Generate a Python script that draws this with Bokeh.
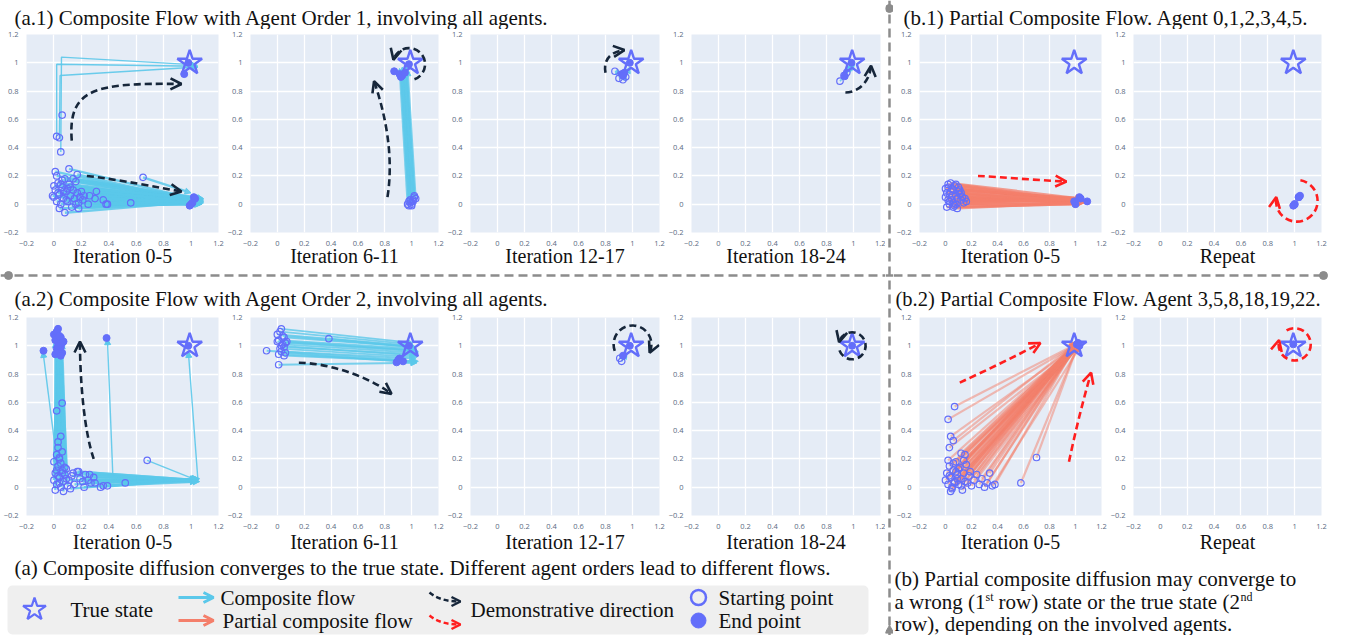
import math
from bokeh.plotting import figure
from bokeh.layouts import row, column
from bokeh.models import (Range1d, FixedTicker, CustomJSTickFormatter, Arrow, NormalHead,
                          OpenHead, ColumnDataSource, BoxAnnotation)
from bokeh.core.properties import value
from bokeh.embed import file_html
from bokeh.resources import INLINE

# ---------------------------------------------------------------- data
TICKS = [-0.2, 0.0, 0.2, 0.4, 0.6, 0.8, 1.0, 1.2]
TRUE_X = [0.99]
TRUE_Y = [1.0]

TITLE_A1 = "(a.1) Composite Flow with Agent Order 1, involving all agents."
TITLE_A2 = "(a.2) Composite Flow with Agent Order 2, involving all agents."
TITLE_B1 = "(b.1) Partial Composite Flow. Agent 0,1,2,3,4,5."
TITLE_B2 = "(b.2) Partial Composite Flow. Agent 3,5,8,18,19,22."
LABELS_A = ["Iteration 0-5", "Iteration 6-11", "Iteration 12-17", "Iteration 18-24"]
LABELS_B = ["Iteration 0-5", "Repeat"]
CAPTION_A = "(a) Composite diffusion converges to the true state. Different agent orders lead to different flows."
CAPTION_B = ["(b) Partial composite diffusion may converge to",
             "a wrong (1", "st", "row) state or the true state (2", "nd",
             "row), depending on the involved agents."]
LEGEND_TEXT = ["True state", "Composite flow", "Partial composite flow",
               "Demonstrative direction", "Starting point", "End point"]

# (a.1) iteration 0-5
A1_0_SX = [0.00, 0.01, 0.02, 0.03, 0.04, 0.05, 0.06, 0.07, 0.08, 0.09,
           0.10, 0.11, 0.12, 0.13, 0.14, 0.15, 0.16, 0.17, 0.18, 0.19,
           0.20, 0.02, 0.04, 0.06, 0.08, 0.01, 0.11, 0.17, 0.14, 0.10,
           0.03, 0.05, 0.07, 0.09, 0.12, 0.16, 0.18, 0.21, 0.22, 0.25,
           0.26, 0.30, 0.31, 0.36, 0.38, 0.39, 0.56, -0.01, 0.00, 0.65]
A1_0_SY = [0.05, 0.10, 0.02, 0.15, 0.07, 0.00, 0.12, 0.04, 0.18, 0.09,
           0.02, 0.14, 0.06, -0.02, 0.10, 0.04, 0.16, 0.08, 0.01, 0.05,
           0.09, 0.20, -0.03, 0.17, -0.06, 0.23, 0.25, 0.21, 0.18, 0.11,
           0.08, 0.14, 0.09, 0.03, 0.12, 0.00, -0.03, 0.03, 0.06, 0.00,
           0.06, 0.04, 0.09, 0.03, 0.00, 0.00, 0.01, 0.06, 0.13, 0.19]
A1_0_FX = [1.06, 1.08, 1.05, 1.07, 1.09, 1.04, 1.06, 1.08, 1.05, 1.07,
           1.09, 1.04, 1.06, 1.08, 1.05, 1.07, 1.09, 1.04, 1.06, 1.08,
           1.05, 1.07, 1.09, 1.04, 1.06, 1.08, 1.05, 1.07, 1.09, 1.04,
           1.06, 1.08, 1.05, 1.07, 1.09, 1.04, 1.06, 1.08, 1.05, 1.07,
           1.09, 1.04, 1.06, 1.08, 1.05, 1.07, 1.09, 1.04, 1.06, 1.00]
A1_0_FY = [0.02, 0.03, 0.01, 0.04, 0.02, 0.00, 0.03, 0.01, 0.04, 0.02,
           0.03, 0.01, 0.00, 0.02, 0.04, 0.03, 0.01, 0.02, 0.04, 0.00,
           0.02, 0.03, 0.01, 0.04, 0.02, 0.00, 0.03, 0.01, 0.04, 0.02,
           0.03, 0.01, 0.00, 0.02, 0.04, 0.03, 0.01, 0.02, 0.04, 0.00,
           0.02, 0.03, 0.01, 0.04, 0.02, 0.00, 0.03, 0.01, 0.04, 0.08]
A1_0_OX = [0.02, 0.04, 0.06, 0.05]
A1_0_OY = [0.48, 0.47, 0.63, 0.37]
A1_0_PX = [[0.02, 0.02, 1.05], [0.05, 0.055, 1.04], [0.04, 0.045, 1.05]]
A1_0_PY = [[0.48, 0.99, 0.975], [0.37, 1.04, 0.985], [0.47, 0.91, 0.97]]
A1_0_EX = [1.02, 1.03, 1.00, 0.99, 1.01, 0.95, 0.98]
A1_0_EY = [0.05, 0.04, 0.00, -0.01, 0.01, 0.92, 1.00]
A1_0_DEMO = [(0.13, 0.45, 0.10, 0.82, 0.30, 0.86, 0.93, 0.85),
             (0.24, 0.20, 0.50, 0.17, 0.75, 0.12, 0.93, 0.09)]

# (a.1) iteration 6-11
A1_1_SX = [0.97, 0.98, 0.99, 1.00, 1.01, 1.02, 1.03, 0.98, 1.00, 1.02, 0.99, 1.01]
A1_1_SY = [0.00, -0.01, 0.01, 0.00, 0.03, 0.05, 0.04, 0.02, -0.01, 0.06, 0.03, 0.02]
A1_1_FX = [0.91, 0.92, 0.93, 0.94, 0.95, 0.96, 0.97, 0.92, 0.94, 0.96, 0.93, 0.95]
A1_1_FY = [0.96, 0.95, 0.97, 0.94, 0.96, 0.97, 0.95, 0.93, 0.95, 0.96, 0.94, 0.97]
A1_1_EX = [0.87, 0.91, 0.93, 0.92, 0.95, 0.98]
A1_1_EY = [0.94, 0.92, 0.91, 0.90, 0.93, 0.99]
A1_1_DEMO = [(0.82, 0.05, 0.87, 0.35, 0.80, 0.65, 0.72, 0.87)]
A1_1_ARC = [(0.98, 0.99, 0.12, -70, 165, "anticlock")]

# (a.1) iteration 12-17
A1_2_SX = [0.87, 0.90, 0.93, 0.95]
A1_2_SY = [0.94, 0.89, 0.88, 0.90]
A1_2_FX = [0.92, 0.94, 0.95, 0.98]
A1_2_FY = [0.92, 0.93, 0.92, 0.97]
A1_2_EX = [0.92, 0.94, 0.93, 0.98]
A1_2_EY = [0.92, 0.93, 0.91, 1.00]
A1_2_DEMO = [(0.80, 0.93, 0.78, 1.03, 0.85, 1.08, 0.94, 1.09)]

# (a.1) iteration 18-24
A1_3_SX = [0.90, 0.93, 0.95]
A1_3_SY = [0.87, 0.91, 0.93]
A1_3_FX = [1.00, 0.99, 1.01]
A1_3_FY = [0.99, 0.98, 1.00]
A1_3_EX = [0.985, 0.935]
A1_3_EY = [1.00, 0.905]
A1_3_DEMO = [(0.94, 0.79, 1.03, 0.79, 1.12, 0.86, 1.13, 0.98)]

# (b.1) iteration 0-5
B1_0_SX = [0.00, 0.01, 0.02, 0.03, 0.04, 0.05, 0.06, 0.07, 0.08, 0.09,
           0.10, 0.11, 0.12, 0.13, 0.14, 0.15, 0.16, 0.01, 0.03, 0.05,
           0.07, 0.09, 0.11, 0.02, 0.04, 0.06, 0.08, 0.10, 0.00, 0.03,
           0.06, 0.12, 0.05, 0.08, 0.02]
B1_0_SY = [0.05, 0.08, 0.12, 0.02, 0.15, 0.06, 0.10, -0.01, 0.14, 0.04,
           0.09, 0.07, 0.03, 0.05, 0.01, 0.04, 0.02, -0.02, 0.00, 0.11,
           0.13, -0.03, 0.10, 0.03, 0.09, 0.01, 0.06, 0.12, 0.11, 0.07,
           -0.02, 0.08, 0.03, 0.00, 0.14]
B1_0_FX = [1.05, 1.06, 1.04, 1.07, 1.05, 1.03, 1.06, 1.04, 1.07, 1.05,
           1.06, 1.04, 1.05, 1.07, 1.03, 1.06, 1.05, 1.04, 1.06, 1.05,
           1.07, 1.04, 1.06, 1.05, 1.03, 1.06, 1.04, 1.07, 1.05, 1.06,
           1.04, 1.05, 1.07, 1.03, 1.06]
B1_0_FY = [0.02, 0.03, 0.01, 0.02, 0.04, 0.00, 0.03, 0.01, 0.02, 0.03,
           0.04, 0.00, 0.02, 0.01, 0.03, 0.02, 0.04, 0.00, 0.01, 0.03,
           0.02, 0.01, 0.04, 0.02, 0.00, 0.03, 0.02, 0.01, 0.04, 0.03,
           0.00, 0.02, 0.03, 0.01, 0.02]
B1_0_EX = [1.00, 1.03, 1.09, 0.99, 1.04]
B1_0_EY = [0.00, 0.05, 0.02, 0.02, 0.04]
B1_0_DEMO = [(0.25, 0.20, 0.45, 0.19, 0.70, 0.17, 0.93, 0.16)]

# (b.1) repeat
B1_1_SX = [1.00, 1.03]
B1_1_SY = [0.00, 0.05]
B1_1_FX = [1.01, 1.06]
B1_1_FY = [0.01, 0.06]
B1_1_EX = [1.00, 1.03, 0.99, 1.04]
B1_1_EY = [0.00, 0.05, -0.01, 0.06]
B1_1_ARC = [(1.016, 0.024, 0.155, 80, 170, "clock")]

# (a.2) iteration 0-5
A2_0_SX = [0.00, 0.01, 0.02, 0.03, 0.04, 0.05, 0.06, 0.07, 0.08, 0.09,
           0.01, 0.03, 0.05, 0.07, 0.09, 0.02, 0.04, 0.06, 0.08, 0.10,
           0.00, 0.02, 0.04, 0.06, 0.03, 0.05, 0.02, 0.03, 0.06, 0.04,
           0.11, 0.13, 0.15, 0.17, 0.19, 0.21, 0.23, 0.25, 0.27, 0.29,
           0.12, 0.14, 0.18, 0.22, 0.26, 0.30, 0.34, 0.36, 0.39, 0.52]
A2_0_SY = [0.05, 0.10, 0.02, 0.15, 0.07, 0.00, 0.12, 0.04, 0.09, 0.13,
           -0.02, 0.08, 0.17, -0.03, 0.06, 0.12, 0.03, 0.10, 0.14, 0.01,
           0.18, 0.23, 0.20, 0.25, 0.32, 0.36, 0.54, 0.28, 0.595, 0.21,
           0.05, 0.08, 0.02, 0.11, 0.06, 0.04, 0.09, 0.05, 0.03, 0.07,
           -0.01, 0.10, 0.11, 0.00, 0.09, 0.03, 0.00, 0.01, 0.01, 0.03]
A2_0_FX = [0.02, 0.03, 0.04, 0.05, 0.06, 0.02, 0.03, 0.04, 0.05, 0.06,
           0.01, 0.02, 0.03, 0.04, 0.05, 0.06, 0.02, 0.03, 0.04, 0.05,
           0.03, 0.04, 0.05, 0.02, 0.03, 0.04, 0.05, 0.06, 0.04, 0.03,
           1.05, 1.04, 1.06, 1.05, 1.04, 1.06, 1.05, 1.04, 1.06, 1.05,
           1.04, 1.06, 1.05, 1.04, 1.06, 1.05, 1.04, 1.06, 1.05, 1.04]
A2_0_FY = [1.04, 1.06, 1.02, 1.05, 1.07, 1.03, 1.04, 1.06, 1.05, 1.02,
           1.03, 1.05, 1.07, 1.04, 1.02, 1.06, 1.05, 1.03, 1.04, 1.06,
           1.02, 1.05, 1.03, 1.04, 1.06, 1.05, 1.03, 1.04, 1.02, 1.05,
           0.05, 0.04, 0.06, 0.05, 0.04, 0.06, 0.05, 0.04, 0.06, 0.05,
           0.06, 0.04, 0.05, 0.06, 0.04, 0.05, 0.06, 0.04, 0.05, 0.06]
A2_0_OX = [0.68]
A2_0_OY = [0.19]
A2_0_PX = [[0.03, -0.08], [0.30, 0.43, 0.39], [0.68, 1.04], [0.60, 1.05, 0.98]]
A2_0_PY = [[0.12, 0.96], [0.07, 0.07, 1.05], [0.19, 0.05], [0.04, 0.05, 0.96]]
A2_0_EX = [0.00, 0.01, 0.02, 0.03, 0.04, 0.05, 0.06, 0.07, 0.01, 0.03,
           0.05, 0.02, 0.04, 0.06, 0.03, 0.05, -0.076, 0.384, 0.98]
A2_0_EY = [1.08, 1.04, 0.98, 1.12, 1.01, 1.06, 0.95, 1.03, 0.94, 0.96,
           0.99, 1.10, 1.07, 1.02, 1.00, 0.93, 0.965, 1.055, 1.00]
A2_0_DEMO = [(0.29, 0.20, 0.22, 0.40, 0.19, 0.75, 0.19, 1.03)]

# (a.2) iteration 6-11
A2_1_SX = [0.00, 0.01, 0.02, 0.03, 0.04, 0.05, 0.06, 0.07, 0.01, 0.03,
           0.05, 0.02, 0.04, 0.06, 0.03, 0.05, -0.08, 0.01, 0.384, 0.00]
A2_1_SY = [1.08, 1.04, 0.98, 1.12, 1.01, 1.06, 0.95, 1.03, 0.94, 0.96,
           0.99, 1.10, 1.07, 1.02, 1.00, 0.93, 0.965, 0.866, 1.05, 1.03]
A2_1_FX = [1.02, 1.03, 1.04, 1.01, 1.05, 1.03, 1.04, 1.02, 1.05, 1.03,
           1.04, 1.01, 1.02, 1.05, 1.03, 1.04, 0.95, 1.04, 1.02, 1.03]
A2_1_FY = [1.00, 0.98, 0.92, 1.02, 0.95, 0.99, 0.88, 0.97, 0.89, 0.91,
           0.94, 1.01, 0.99, 0.96, 0.93, 0.89, 0.90, 0.88, 0.99, 0.97]
A2_1_EX = [0.888, 0.91, 0.936, 0.90, 0.98]
A2_1_EY = [0.883, 0.91, 0.89, 0.90, 1.00]
A2_1_DEMO = [(0.16, 0.88, 0.35, 0.88, 0.65, 0.80, 0.85, 0.66)]

# (a.2) iteration 12-17
A2_2_SX = [0.906, 0.92]
A2_2_SY = [0.912, 0.89]
A2_2_FX = [0.95, 0.96]
A2_2_FY = [0.94, 0.95]
A2_2_EX = [0.93, 0.98]
A2_2_EY = [0.93, 1.00]
A2_2_ARC = [(1.0, 1.01, 0.14, 200, -25, "clock")]

# (a.2) iteration 18-24
A2_3_EX = [0.99]
A2_3_EY = [1.00]
A2_3_ARC = [(0.99, 1.0, 0.10, 200, 165, "anticlock")]

# (b.2) iteration 0-5
B2_0_SX = [0.00, 0.01, 0.02, 0.03, 0.04, 0.05, 0.06, 0.07, 0.08, 0.09,
           0.10, 0.11, 0.12, 0.13, 0.14, 0.15, 0.16, 0.18, 0.20, 0.22,
           0.24, 0.26, 0.28, 0.30, 0.32, 0.34, 0.36, 0.38, 0.02, 0.04,
           0.06, 0.08, 0.10, 0.03, 0.05, 0.07, 0.09, 0.12, 0.14, 0.17,
           0.07, 0.02, 0.04, 0.06, 0.03, 0.12, 0.15, 0.58, 0.70, 0.19]
B2_0_SY = [0.05, 0.10, 0.02, 0.15, 0.07, 0.00, 0.12, 0.04, 0.18, 0.09,
           0.02, 0.14, 0.06, -0.02, 0.10, 0.04, 0.16, 0.08, 0.01, 0.05,
           0.09, 0.02, 0.06, 0.00, 0.03, 0.10, 0.01, 0.02, 0.19, -0.03,
           0.17, 0.11, 0.13, 0.08, -0.01, 0.03, 0.06, 0.01, 0.19, 0.03,
           0.57, 0.48, 0.36, 0.33, 0.28, 0.24, 0.23, 0.03, 0.21, 0.11]
B2_0_FX = [1.02, 1.01, 1.03, 1.02, 1.00, 1.03, 1.01, 1.02, 1.04, 1.02,
           1.01, 1.03, 1.02, 1.00, 1.03, 1.01, 1.02, 1.04, 1.02, 1.01,
           1.03, 1.02, 1.00, 1.03, 1.01, 1.02, 1.04, 1.02, 1.01, 1.03,
           1.02, 1.00, 1.03, 1.01, 1.02, 1.04, 1.02, 1.01, 1.03, 1.02,
           1.00, 1.03, 1.01, 1.02, 1.04, 1.02, 1.01, 1.03, 1.02, 1.00]
B2_0_FY = [1.01, 1.02, 1.00, 1.03, 1.01, 1.02, 1.00, 1.03, 1.01, 1.02,
           1.00, 1.03, 1.01, 1.02, 1.00, 1.03, 1.01, 1.02, 1.00, 1.03,
           1.01, 1.02, 1.00, 1.03, 1.01, 1.02, 1.00, 1.03, 1.01, 1.02,
           1.00, 1.03, 1.01, 1.02, 1.00, 1.03, 1.01, 1.02, 1.00, 1.03,
           1.01, 1.02, 1.00, 1.03, 1.01, 1.02, 1.00, 1.03, 1.01, 1.02]
B2_0_EX = [1.01, 1.02, 1.03]
B2_0_EY = [1.01, 1.02, 1.00]
B2_0_DEMO = [(0.11, 0.74, 0.30, 0.82, 0.55, 0.93, 0.73, 1.02),
             (0.95, 0.18, 1.00, 0.40, 1.06, 0.62, 1.12, 0.81)]

# (b.2) repeat
B2_1_EX = [0.99]
B2_1_EY = [1.01]
B2_1_ARC = [(1.0, 1.01, 0.12, 120, 165, "clock")]

# ---------------------------------------------------------------- style
SERIF = "Liberation Serif"
BG = "#E5ECF6"
CYAN = "#5BC8EA"
SALMON = "#F47F6B"
MARK = "#636EFA"
DARK = "#16263A"
RED = "#FF1E1E"
GRAY = "#8C8C8C"

FMT_CODE = """
const v = Math.round(tick * 10) / 10;
let s = Number.isInteger(v) ? v.toFixed(0) : v.toFixed(1);
if (v < 0) { s = "\\u2212" + s.slice(1); }
return s;
"""


def band(w, h):
    p = figure(width=w, height=h, x_range=Range1d(0, w), y_range=Range1d(h, 0),
               toolbar_location=None, output_backend="svg", min_border=0,
               x_axis_type=None, y_axis_type=None, outline_line_color=None,
               background_fill_color="white", border_fill_color="white")
    return p


def txt(p, x, y, s, size="21px", align="left", color="#111111"):
    p.text(x=[x], y=[y], text=[s], text_font=value(SERIF), text_font_size=value(size),
           text_align=align, text_baseline="middle", text_color=color)


def head(p, x0, y0, x1, y1, color, size=11, lw=2.6):
    p.add_layout(Arrow(x_start=x0, y_start=y0, x_end=x1, y_end=y1, line_alpha=0,
                       end=OpenHead(size=size, line_color=color, line_width=lw)))


def make_panel(left, fw, right, top, fh, bottom, d, label, standoff):
    p = figure(width=left + fw + right, height=top + fh + bottom,
               x_range=Range1d(-0.2, 1.2), y_range=Range1d(-0.2, 1.2),
               toolbar_location=None, output_backend="svg",
               min_border_left=left, min_border_right=right,
               min_border_top=top, min_border_bottom=bottom,
               background_fill_color=BG, border_fill_color="white",
               outline_line_color=None)
    for ax in (p.xaxis[0], p.yaxis[0]):
        ax.ticker = FixedTicker(ticks=TICKS)
        ax.formatter = CustomJSTickFormatter(code=FMT_CODE)
        ax.axis_line_color = None
        ax.major_tick_line_color = None
        ax.minor_tick_line_color = None
        ax.major_label_text_font = "Open Sans"
        ax.major_label_text_font_size = "7.5px"
        ax.major_label_text_color = "#5A6A82"
        ax.major_label_standoff = 2
    xa = p.xaxis[0]
    xa.axis_label = label
    xa.axis_label_text_font = SERIF
    xa.axis_label_text_font_size = "20px"
    xa.axis_label_text_font_style = "normal"
    xa.axis_label_text_color = "#111111"
    xa.axis_label_standoff = standoff
    p.xgrid.ticker = FixedTicker(ticks=TICKS)
    p.ygrid.ticker = FixedTicker(ticks=TICKS)
    p.grid.grid_line_color = "white"
    p.grid.grid_line_width = 1.3

    c = d.get("color", CYAN)
    sx, sy = d.get("sx", []), d.get("sy", [])
    if sx:
        src = ColumnDataSource(dict(x0=sx, y0=sy, x1=d["fx"], y1=d["fy"]))
        p.add_layout(Arrow(source=src, x_start="x0", y_start="y0", x_end="x1", y_end="y1",
                           line_color=c, line_width=d.get("lw", 1.6), line_alpha=d.get("la", 0.8),
                           end=NormalHead(size=6, fill_color=c, line_color=c,
                                          fill_alpha=0.85, line_alpha=0.85),
                           level="underlay"))
    px, py = d.get("px", []), d.get("py", [])
    if px:
        p.multi_line(xs=px, ys=py, line_color=c, line_width=1.4, line_alpha=0.9)
        src2 = ColumnDataSource(dict(x0=[xs[-2] for xs in px], y0=[ys[-2] for ys in py],
                                     x1=[xs[-1] for xs in px], y1=[ys[-1] for ys in py]))
        p.add_layout(Arrow(source=src2, x_start="x0", y_start="y0", x_end="x1", y_end="y1",
                           line_alpha=0, level="underlay",
                           end=NormalHead(size=6, fill_color=c, line_color=c)))
    p.scatter(TRUE_X, TRUE_Y, marker="star", size=26, fill_alpha=0,
              line_color=MARK, line_width=2.4)
    ox = sx + d.get("ox", [])
    oy = sy + d.get("oy", [])
    if ox:
        p.scatter(ox, oy, marker="circle", size=6.5, fill_alpha=0,
                  line_color=MARK, line_width=1.2)
    if d.get("ex"):
        p.scatter(d["ex"], d["ey"], marker="circle", size=7, fill_color=MARK, line_color=MARK)

    dc = d.get("demo_color", DARK)
    for (x0, y0, cx0, cy0, cx1, cy1, x1, y1) in d.get("demo", []):
        p.bezier(x0=[x0], y0=[y0], x1=[x1], y1=[y1], cx0=[cx0], cy0=[cy0],
                 cx1=[cx1], cy1=[cy1], line_color=dc, line_width=2.6, line_dash="7 4")
        dx, dy = x1 - cx1, y1 - cy1
        n = math.hypot(dx, dy)
        head(p, x1 - 0.01 * dx / n, y1 - 0.01 * dy / n, x1, y1, dc)
    for (cx, cy, r, a0, a1, direction) in d.get("arc", []):
        p.arc(x=[cx], y=[cy], radius=r, start_angle=math.radians(a0),
              end_angle=math.radians(a1), direction=direction,
              line_color=dc, line_width=2.6, line_dash="7 4")
        t = math.radians(a1)
        hx, hy = cx + r * math.cos(t), cy + r * math.sin(t)
        if direction == "anticlock":
            tx, ty = -math.sin(t), math.cos(t)
        else:
            tx, ty = math.sin(t), -math.cos(t)
        head(p, hx - 0.01 * tx, hy - 0.01 * ty, hx, hy, dc)
    return p


PANELS_A1 = [
    dict(sx=A1_0_SX, sy=A1_0_SY, fx=A1_0_FX, fy=A1_0_FY, ox=A1_0_OX, oy=A1_0_OY,
         px=A1_0_PX, py=A1_0_PY, ex=A1_0_EX, ey=A1_0_EY, demo=A1_0_DEMO, lw=2.4, la=0.85),
    dict(sx=A1_1_SX, sy=A1_1_SY, fx=A1_1_FX, fy=A1_1_FY, ex=A1_1_EX, ey=A1_1_EY,
         demo=A1_1_DEMO, arc=A1_1_ARC, lw=2.0),
    dict(sx=A1_2_SX, sy=A1_2_SY, fx=A1_2_FX, fy=A1_2_FY, ex=A1_2_EX, ey=A1_2_EY,
         demo=A1_2_DEMO),
    dict(sx=A1_3_SX, sy=A1_3_SY, fx=A1_3_FX, fy=A1_3_FY, ex=A1_3_EX, ey=A1_3_EY,
         demo=A1_3_DEMO),
]
PANELS_A2 = [
    dict(sx=A2_0_SX, sy=A2_0_SY, fx=A2_0_FX, fy=A2_0_FY, ox=A2_0_OX, oy=A2_0_OY,
         px=A2_0_PX, py=A2_0_PY, ex=A2_0_EX, ey=A2_0_EY, demo=A2_0_DEMO, lw=2.2, la=0.85),
    dict(sx=A2_1_SX, sy=A2_1_SY, fx=A2_1_FX, fy=A2_1_FY, ex=A2_1_EX, ey=A2_1_EY,
         demo=A2_1_DEMO, lw=1.8),
    dict(sx=A2_2_SX, sy=A2_2_SY, fx=A2_2_FX, fy=A2_2_FY, ex=A2_2_EX, ey=A2_2_EY,
         arc=A2_2_ARC),
    dict(ex=A2_3_EX, ey=A2_3_EY, arc=A2_3_ARC),
]
PANELS_B1 = [
    dict(sx=B1_0_SX, sy=B1_0_SY, fx=B1_0_FX, fy=B1_0_FY, ex=B1_0_EX, ey=B1_0_EY,
         demo=B1_0_DEMO, color=SALMON, demo_color=RED, lw=2.2, la=0.75),
    dict(sx=B1_1_SX, sy=B1_1_SY, fx=B1_1_FX, fy=B1_1_FY, ex=B1_1_EX, ey=B1_1_EY,
         arc=B1_1_ARC, color=SALMON, demo_color=RED),
]
PANELS_B2 = [
    dict(sx=B2_0_SX, sy=B2_0_SY, fx=B2_0_FX, fy=B2_0_FY, ex=B2_0_EX, ey=B2_0_EY,
         demo=B2_0_DEMO, color=SALMON, demo_color=RED, lw=2.2, la=0.5),
    dict(ex=B2_1_EX, ey=B2_1_EY, arc=B2_1_ARC, color=SALMON, demo_color=RED),
]

# ---------------------------------------------------------------- geometry
GEOM_A = [(22, 196, 6), (20, 194, 6), (20, 195, 6), (20, 195, 5)]
GEOM_B = [(16, 192, 6), (19, 195, 14)]
WA = sum(sum(g) for g in GEOM_A)
WB = sum(sum(g) for g in GEOM_B)
ROW1 = (5, 199, 36)   # top border, frame height, bottom border
ROW2 = (5, 202, 36)


def panel_row(geom, specs, dims, labels, standoff):
    top, fh, bottom = dims
    return row(*[make_panel(l, f, r, top, fh, bottom, s, lab, standoff)
                 for (l, f, r), s, lab in zip(geom, specs, labels)])


def dash_h(p, x0, x1, y):
    p.segment(x0=[x0], y0=[y], x1=[x1], y1=[y], line_color=GRAY, line_width=2.5, line_dash="9 5")


# left column
tA = band(WA, 29)
txt(tA, 14, 17, TITLE_A1)
midA = band(WA, 43)
dash_h(midA, 0, WA, 6)
midA.scatter([8], [6], marker="circle", size=8, color=GRAY)
txt(midA, 14, 29, TITLE_A2)

botA = band(WA, 80)
txt(botA, 14, 12, CAPTION_A)
botA.add_layout(BoxAnnotation(left=7, right=868, top=30, bottom=79, fill_color="#EFEFEF",
                              fill_alpha=1, line_color=None, border_radius=5, level="underlay"))
botA.scatter([34], [54], marker="star", size=24, fill_alpha=0, line_color=MARK, line_width=2.2)
txt(botA, 70, 54, LEGEND_TEXT[0])
botA.add_layout(Arrow(x_start=178, y_start=42, x_end=213, y_end=42, line_color=CYAN, line_width=3,
                      end=OpenHead(size=10, line_color=CYAN, line_width=3)))
txt(botA, 220, 42, LEGEND_TEXT[1])
botA.add_layout(Arrow(x_start=178, y_start=65, x_end=213, y_end=65, line_color=SALMON, line_width=3,
                      end=OpenHead(size=10, line_color=SALMON, line_width=3)))
txt(botA, 222, 65, LEGEND_TEXT[2])
for yy, cc in ((0, DARK), (23, RED)):
    botA.bezier(x0=[429], y0=[37 + yy], cx0=[436], cy0=[43 + yy], cx1=[446], cy1=[46 + yy],
                x1=[459], y1=[46 + yy], line_color=cc, line_width=2.5, line_dash="5 3")
    head(botA, 457, 46 + yy, 460, 46 + yy, cc, size=9, lw=2.5)
txt(botA, 470, 54, LEGEND_TEXT[3])
botA.scatter([698], [42], marker="circle", size=15, fill_alpha=0, line_color=MARK, line_width=2.5)
txt(botA, 718, 42, LEGEND_TEXT[4])
botA.scatter([698], [65], marker="circle", size=15, fill_color=MARK, line_color=MARK)
txt(botA, 718, 65, LEGEND_TEXT[5])

left_col = column(
    tA,
    panel_row(GEOM_A, PANELS_A1, ROW1, LABELS_A, -4),
    midA,
    panel_row(GEOM_A, PANELS_A2, ROW2, LABELS_A, -1),
    botA,
)

# right column
tB = band(WB, 29)
txt(tB, 10, 17, TITLE_B1)
midB = band(WB, 43)
dash_h(midB, 0, 430, 6)
midB.scatter([430], [6], marker="circle", size=8, color=GRAY)
txt(midB, 2, 29, TITLE_B2, size="20.5px")
botB = band(WB, 80)
txt(botB, 1, 23, CAPTION_B[0])
txt(botB, 1, 46, CAPTION_B[1])
txt(botB, 92, 41, CAPTION_B[2], size="12px")
txt(botB, 105, 46, CAPTION_B[3])
txt(botB, 347, 41, CAPTION_B[4], size="12px")
txt(botB, 1, 68, CAPTION_B[5])

right_col = column(
    tB,
    panel_row(GEOM_B, PANELS_B1, ROW1, LABELS_B, -4),
    midB,
    panel_row(GEOM_B, PANELS_B2, ROW2, LABELS_B, -1),
    botB,
)

# vertical separator
H = 29 + sum(ROW1) + 43 + sum(ROW2) + 80
vs = band(8, H)
vs.segment(x0=[4], y0=[0], x1=[4], y1=[H], line_color=GRAY, line_width=2.5, line_dash="9 5")
dash_h(vs, 0, 8, 29 + sum(ROW1) + 6)
vs.scatter([4], [8], marker="circle", size=8, color=GRAY)
vs.scatter([4], [H - 5], marker="triangle", size=9, color=GRAY)

root = row(left_col, vs, right_col)
open("out.html", "w").write(file_html(root, INLINE))
